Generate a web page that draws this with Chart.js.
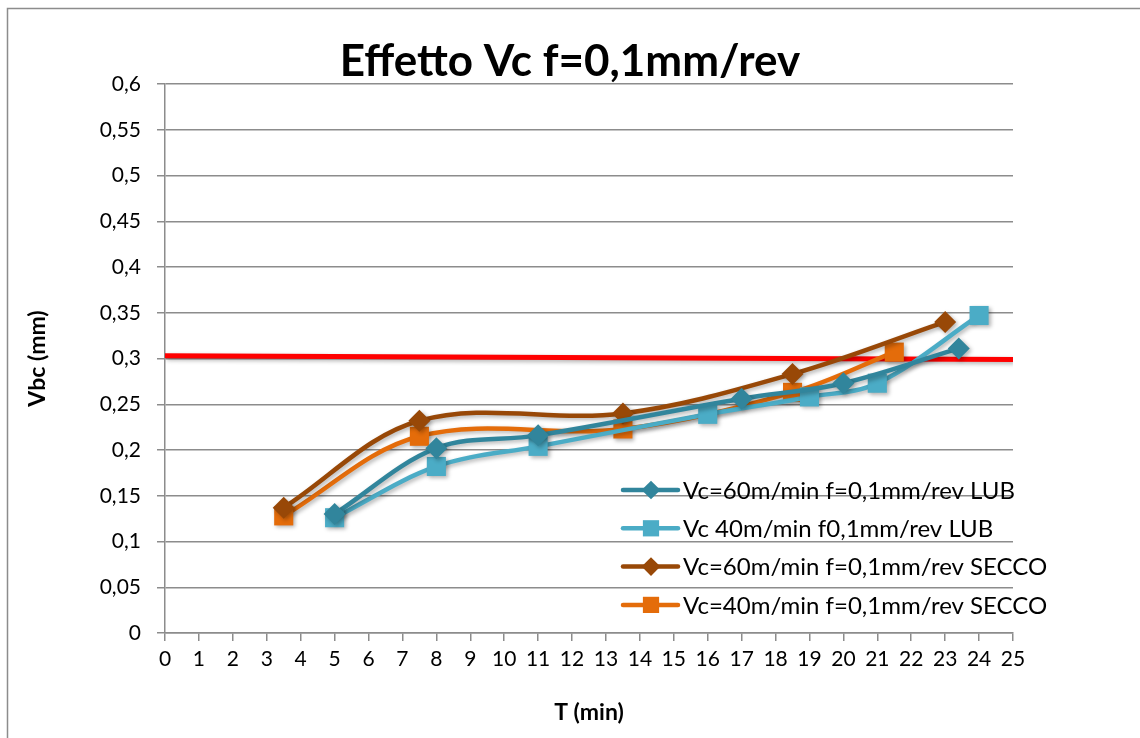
<!DOCTYPE html>
<html lang="it">

<head>
    <meta charset="UTF-8">
    <title>Effetto Vc f=0,1mm/rev</title>
    <script src="https://cdn.jsdelivr.net/npm/chart.js"></script>
    <style>
        html, body { margin: 0; padding: 0; background: #fff; }
        #grafico { display: block; }
    </style>
</head>

<body>
    <canvas id="grafico" width="1140" height="738"></canvas>

<script>
    // dati
    const lub60_t = [5, 8, 11, 17, 20, 23.4];
    const lub60_vb = [0.13, 0.202, 0.216, 0.256, 0.273, 0.311];

    const lub40_t = [5, 8, 11, 16, 19, 21, 24];
    const lub40_vb = [0.126, 0.182, 0.204, 0.239, 0.258, 0.273, 0.347];

    const secco60_t = [3.5, 7.5, 13.5, 18.5, 23];
    const secco60_vb = [0.137, 0.232, 0.24, 0.283, 0.34];

    const secco40_t = [3.5, 7.5, 13.5, 18.5, 21.5];
    const secco40_vb = [0.128, 0.215, 0.223, 0.263, 0.307];

    // limite 0,3 mm
    const limite_t = [0, 25];
    const limite_vb = [0.303, 0.299];

    const nomiSerie = [
        'Vc=60m/min f=0,1mm/rev LUB',
        'Vc 40m/min f0,1mm/rev LUB',
        'Vc=60m/min f=0,1mm/rev SECCO',
        'Vc=40m/min f=0,1mm/rev SECCO'
    ];

    const font = 'Lato';
    const grigio = '#8c8c8c';

    function punti(xs, ys) {
        return xs.map((x, i) => ({ x: x, y: ys[i] }));
    }

    function serie(nome, xs, ys, colore, stile, raggio) {
        return {
            label: nome,
            data: punti(xs, ys),
            borderColor: colore,
            backgroundColor: colore,
            borderWidth: 4.5,
            pointStyle: stile,
            pointRadius: raggio,
            pointHoverRadius: raggio,
            pointBorderWidth: 0,
            tension: 0.35,
            fill: false
        };
    }

    const dataset = [
        serie(nomiSerie[0], lub60_t, lub60_vb, '#31859C', 'rectRot', 11),
        serie(nomiSerie[1], lub40_t, lub40_vb, '#4BACC6', 'rect', 13.5),
        serie(nomiSerie[2], secco60_t, secco60_vb, '#984807', 'rectRot', 11),
        serie(nomiSerie[3], secco40_t, secco40_vb, '#E46C0A', 'rect', 13.5),
        {
            label: 'limite',
            data: punti(limite_t, limite_vb),
            borderColor: '#FF0000',
            borderWidth: 5,
            pointRadius: 0,
            tension: 0,
            fill: false
        }
    ];

    // bordo esterno come nel foglio excel
    const bordo = {
        id: 'bordo',
        beforeDraw(chart) {
            const c = chart.ctx;
            c.save();
            c.fillStyle = '#fff';
            c.fillRect(0, 0, chart.width, chart.height);
            c.strokeStyle = grigio;
            c.lineWidth = 1.5;
            c.strokeRect(7.5, 8.5, chart.width + 20, chart.height + 20);
            c.restore();
        }
    };

    // ombra leggera sotto le linee
    const ombra = {
        id: 'ombra',
        beforeDatasetsDraw(chart) {
            const c = chart.ctx;
            c.save();
            c.shadowColor = 'rgba(0,0,0,0.3)';
            c.shadowBlur = 4;
            c.shadowOffsetX = 2;
            c.shadowOffsetY = 2;
        },
        afterDatasetsDraw(chart) {
            chart.ctx.restore();
        }
    };

    // legenda dentro l'area del grafico
    const legenda = {
        id: 'legenda',
        afterDraw(chart) {
            const c = chart.ctx;
            const area = chart.chartArea;
            const x0 = area.left + 458;
            const y0 = area.bottom - 143;
            const passo = 38.3;
            c.save();
            c.font = '24px ' + font;
            c.textBaseline = 'middle';
            for (let i = 0; i < 4; i++) {
                const ds = chart.data.datasets[i];
                const y = y0 + i * passo;
                c.strokeStyle = ds.borderColor;
                c.lineWidth = 4.5;
                c.lineCap = 'round';
                c.beginPath();
                c.moveTo(x0, y);
                c.lineTo(x0 + 55, y);
                c.stroke();
                c.fillStyle = ds.backgroundColor;
                Chart.helpers.drawPoint(c, {
                    pointStyle: ds.pointStyle,
                    radius: ds.pointRadius * 0.85,
                    rotation: 0,
                    borderWidth: 0
                }, x0 + 28, y);
                c.fillStyle = '#000';
                c.fillText(ds.label, x0 + 60, y + 1);
            }
            c.restore();
        }
    };

    const ctx = document.getElementById('grafico');

    new Chart(ctx, {
        type: 'line',
        data: { datasets: dataset },
        plugins: [bordo, ombra, legenda],
        options: {
            responsive: false,
            animation: false,
            layout: { padding: 0 },
            plugins: {
                legend: { display: false },
                tooltip: { enabled: false },
                title: {
                    display: true,
                    text: 'Effetto Vc f=0,1mm/rev',
                    color: '#000',
                    font: { family: font, size: 44, weight: 'bold', lineHeight: 1 },
                    padding: { top: 40, bottom: 0 }
                }
            },
            scales: {
                x: {
                    type: 'linear',
                    min: 0,
                    max: 25,
                    afterFit(scale) { scale.height = 105; },
                    ticks: {
                        stepSize: 1,
                        color: '#000',
                        font: { family: font, size: 21 },
                        padding: 6,
                        maxRotation: 0,
                        autoSkip: false
                    },
                    grid: {
                        drawOnChartArea: false,
                        color: grigio,
                        lineWidth: 1.5,
                        tickLength: 8
                    },
                    border: { color: grigio, width: 1.5 },
                    title: {
                        display: true,
                        text: 'T (min)',
                        color: '#000',
                        font: { family: font, size: 23, weight: 'bold' },
                        padding: { top: 0, bottom: 12 }
                    }
                },
                y: {
                    min: 0,
                    max: 0.6,
                    afterFit(scale) { scale.width = 165; },
                    ticks: {
                        stepSize: 0.05,
                        color: '#000',
                        font: { family: font, size: 21 },
                        padding: 16,
                        callback: v => (Math.round(v * 100) / 100).toString().replace('.', ',')
                    },
                    grid: {
                        color: grigio,
                        lineWidth: 1.5,
                        tickLength: 8
                    },
                    border: { color: grigio, width: 1.5 },
                    title: {
                        display: true,
                        text: 'Vbc (mm)',
                        color: '#000',
                        font: { family: font, size: 23, weight: 'bold' },
                        padding: { top: 24, bottom: 0 }
                    }
                },
                // spazio vuoto a destra (la legenda sborda li)
                spazio: {
                    position: 'right',
                    display: true,
                    afterFit(scale) { scale.width = 127; },
                    ticks: { display: false },
                    grid: { display: false },
                    border: { display: false }
                }
            }
        }
    });
</script>
</body>

</html>
